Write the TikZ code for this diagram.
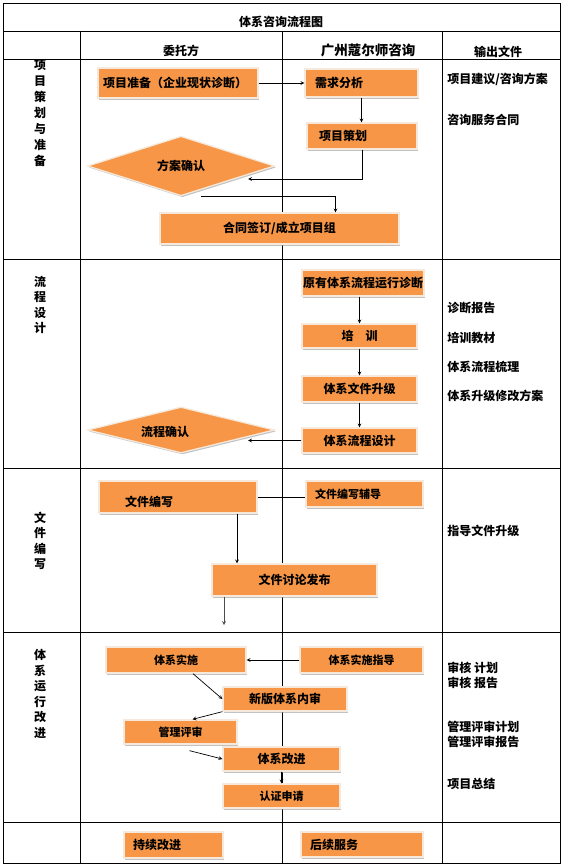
\documentclass[tikz,border=0pt]{standalone}
\usepackage{fontspec}
\setmainfont{Noto Sans CJK SC}
\usetikzlibrary{shapes.geometric,shadows,calc}
\definecolor{boxfill}{RGB}{247,150,70}
\definecolor{boxrim}{RGB}{246,232,218}

\begin{document}
\begin{tikzpicture}[x=1pt, y=-1pt, >=stealth, line width=0.7pt,
  every node/.style={font=\bfseries\fontsize{12}{14}\selectfont},
  box/.style={rectangle, fill=boxfill, draw=boxrim, line width=1.3pt, inner xsep=6pt, inner ysep=0pt,
    drop shadow={shadow xshift=1.3pt, shadow yshift=-1.5pt, fill=black!40, opacity=0.6}},
  decision/.style={diamond, fill=boxfill, draw=boxrim, line width=1.3pt, inner sep=0pt,
    drop shadow={shadow xshift=1.3pt, shadow yshift=-1.5pt, fill=black!40, opacity=0.6}},
  small/.style={font=\bfseries\fontsize{11}{13}\selectfont},
  side/.style={align=center, font=\bfseries\fontsize{12}{15.5}\selectfont},
  outtext/.style={anchor=west, align=left, inner sep=0pt, font=\bfseries\fontsize{12}{15}\selectfont}]
  \useasboundingbox (0,0) rectangle (563,867);
  % 表格
  \draw (3,3) rectangle (560,863);
  \draw (3,31) -- (560,31);
  \draw (3,59) -- (560,59);
  \foreach \y in {259,468,632,822} \draw (3,\y) -- (560,\y);
  \foreach \x in {80,282,442} \draw (\x,31) -- (\x,863);
  \node (title) at (281,22) {体系咨询流程图};
  \node (client) at (181,51) {委托方};
  \node[font=\bfseries\fontsize{13.5}{15}\selectfont] (consult) at (368,50) {广州蔻尔师咨询};
  \node (output) at (498,52) {输出文件};
  % 阶段
  \node[side, font=\bfseries\fontsize{12}{16}\selectfont] (sec1) at (40,113) {项\\目\\策\\划\\与\\准\\备};
  \node[side] (sec2) at (40,305) {流\\程\\设\\计};
  \node[side] (sec3) at (40,541) {文\\件\\编\\写};
  \node[side] (sec4) at (40,694) {体\\系\\运\\行\\改\\进};
  % 项目策划与准备
  \node[box, inner xsep=5pt, text width=150pt, align=left, minimum height=30pt] (prep) at (178,83) {项目准备（企业现状诊断）};
  \node[box, inner xsep=10pt, text width=93pt, align=left, minimum height=28pt] (demand) at (361.5,83) {需求分析};
  \node[box, inner xsep=12pt, text width=86pt, align=left, minimum height=26pt] (plan) at (362,136) {项目策划};
  \node[decision, minimum width=187pt, minimum height=47pt] (confirm) at (181,166) {方案确认};
  \node[box, minimum width=239pt, minimum height=31pt] (contract) at (279.5,228.5) {合同签订/成立项目组};
  \draw[->] (prep.east) -- (demand.west);
  \draw[->] (demand.south) -- (demand.south |- plan.north);
  \draw[->] (plan.south) |- ($(confirm.east)+(-27,13)$);
  \draw[->] ($(confirm.south)+(20,0)$) -| ($(contract.north)+(56,0)$);
  % 流程设计
  \node[box, inner xsep=1pt, minimum width=122pt, minimum height=26pt] (diag) at (363,283) {原有体系流程运行诊断};
  \node[box, minimum width=115pt, minimum height=24pt] (train) at (359.5,336) {培\hspace{1em}训};
  \node[box, minimum width=115pt, minimum height=26pt] (upgrade) at (359.5,389) {体系文件升级};
  \node[box, minimum width=115pt, minimum height=25pt] (design) at (359.5,440.5) {体系流程设计};
  \node[decision, minimum width=187pt, minimum height=46pt,
    label={[xshift=-16pt, yshift=-2pt]center:流程确认}] (flowok) at (181,430) {};
  \draw[->] (diag.south -| train.north) -- (train.north);
  \draw[->] (train.south) -- (upgrade.north);
  \draw[->] (upgrade.south) -- (design.north);
  \draw[->] (design.west) -- ($(design.west -| flowok.east)+(-27,0)$);
  % 文件编写
  \node[box, inner xsep=26pt, text width=106pt, align=left, minimum height=32pt,
    text height=21pt, text depth=1.5pt] (write) at (178,497) {文件编写};
  \node[box, small, inner xsep=9pt, text width=99pt, align=left, minimum height=26pt] (coach) at (364.5,494) {文件编写辅导};
  \node[box, minimum width=165pt, minimum height=32pt] (publish) at (294.5,580) {文件讨论发布};
  \coordinate (pubend) at (224,625);
  \draw (write.east) -- (write.east -| coach.west);
  \draw[->] ([xshift=59pt]write.south) -- ([xshift=59pt]write.south |- publish.north);
  \draw[->, black!70] (publish.south -| pubend) -- (pubend);
  % 体系运行改进
  \node[box, small, minimum width=140pt, minimum height=26pt] (impl) at (176,660) {体系实施};
  \node[box, small, minimum width=123pt, minimum height=26pt] (guide) at (361.5,660) {体系实施指导};
  \node[box, minimum width=124pt, minimum height=24pt] (audit) at (285,699) {新版体系内审};
  \node[box, small, minimum width=113pt, minimum height=24pt] (review) at (180.5,732) {管理评审};
  \node[box, minimum width=117pt, minimum height=24pt] (improve) at (281.5,759) {体系改进};
  \node[box, small, minimum width=117pt, minimum height=24pt] (apply) at (281.5,796) {认证申请};
  \draw[->] (guide.west) -- (impl.east);
  \draw[->] ([xshift=17pt]impl.south) -- (audit.west);
  \draw[->] (audit.south west) -- ([xshift=12pt]review.north);
  \draw[->] ([xshift=9pt,yshift=-6pt]review.south) -- (improve.west);
  \draw[->] (improve.south) -- (apply.north);
  % 后续
  \node[box, inner xsep=9pt, text width=81pt, align=left, minimum height=26pt] (keep) at (173.5,845) {持续改进};
  \node[box, inner xsep=9pt, text width=104pt, align=left, minimum height=25pt] (service) at (362,844.5) {后续服务};
  % 输出文件
  \node[outtext] (o1) at (447,79) {项目建议/咨询方案};
  \node[outtext] (o2) at (447,120) {咨询服务合同};
  \node[outtext] (o3) at (447,308) {诊断报告};
  \node[outtext] (o4) at (447,338) {培训教材};
  \node[outtext] (o5) at (447,367) {体系流程梳理};
  \node[outtext] (o6) at (447,396) {体系升级修改方案};
  \node[outtext] (o7) at (447,531) {指导文件升级};
  \node[outtext] (o8) at (447,675.5) {审核 计划\\审核 报告};
  \node[outtext] (o9) at (447,734.5) {管理评审计划\\管理评审报告};
  \node[outtext] (o10) at (447,784) {项目总结};
\end{tikzpicture}
\end{document}
